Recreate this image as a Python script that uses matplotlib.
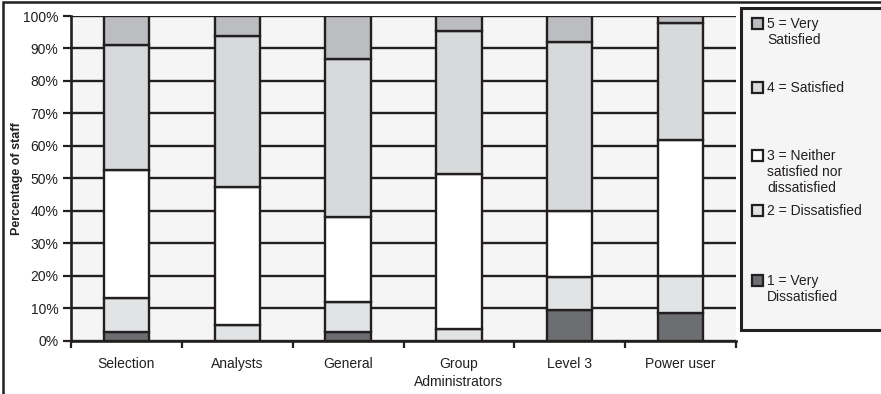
import matplotlib
matplotlib.use("Agg")
import matplotlib.pyplot as plt
from matplotlib.patches import Rectangle
import numpy as np

plt.rcParams['font.family'] = ['Liberation Sans', 'DejaVu Sans']

categories = ["Selection", "Analysts", "General", "Group\nAdministrators", "Level 3", "Power user"]
very_dissatisfied = [2.6, 0.0, 2.6, 0.0, 9.5, 8.4]
dissatisfied = [10.5, 4.8, 9.2, 3.5, 10.0, 11.6]
neither = [39.5, 42.6, 26.2, 47.8, 20.5, 41.7]
satisfied = [38.5, 46.3, 48.8, 44.0, 51.9, 36.2]
very_satisfied = [8.9, 6.3, 13.2, 4.7, 8.1, 2.1]

series = [very_dissatisfied, dissatisfied, neither, satisfied, very_satisfied]
labels = ["1 = Very\nDissatisfied", "2 = Dissatisfied",
          "3 = Neither\nsatisfied nor\ndissatisfied", "4 = Satisfied",
          "5 = Very\nSatisfied"]
colors = ["#6d6e71", "#e2e3e4", "#ffffff", "#d8d9db", "#bcbdc0"]
ink = "#231f20"
FS = 10

fig = plt.figure(figsize=(8.81, 3.94), dpi=100)
ax = fig.add_axes([71/881, 1-340.7/394, (736-71)/881, (340.7-16)/394])
ax.set_facecolor("#f5f5f5")

x = np.arange(len(categories))
bottom = np.zeros(len(categories))
for vals, col in zip(series, colors):
    v = np.array(vals) / 100.0
    ax.bar(x, v, width=0.41, bottom=bottom, color=col, edgecolor=ink,
           linewidth=1.7, zorder=3)
    bottom += v

ax.set_xlim(-0.5, len(categories) - 0.5)
ax.set_ylim(0, 1)
ax.set_yticks(np.arange(0, 1.01, 0.1))
ax.set_yticklabels([f"{int(round(t*100))}%" for t in np.arange(0, 1.01, 0.1)],
                   fontsize=FS, color=ink)
ax.yaxis.grid(True, color=ink, linewidth=1.7, zorder=1)
ax.set_axisbelow(True)
ax.set_xticks(x)
ax.set_xticklabels(categories, fontsize=FS, color=ink, linespacing=1.3)
ax.tick_params(axis='x', length=0, pad=12)
ax.set_xticks(np.arange(-0.5, len(categories) + 0.5, 1), minor=True)
ax.tick_params(axis='x', which='minor', length=5, width=1.6, color=ink, direction='out')
ax.tick_params(axis='y', length=6, width=1.6, color=ink, direction='out', pad=3)
for s in ['top', 'right']:
    ax.spines[s].set_visible(False)
for s in ['left', 'bottom']:
    ax.spines[s].set_color(ink)
    ax.spines[s].set_linewidth(1.9)
    ax.spines[s].set_zorder(4)
ax.set_ylabel("Percentage of staff", fontsize=9, fontweight='bold', color=ink)
ax.yaxis.set_label_coords((17 - 71) / 665, 0.5)
ax.yaxis.label.set_verticalalignment('center')

# outer frame
fig.patches.append(Rectangle((3/881, -0.01), 1.0, 1 - 2/394 + 0.01, transform=fig.transFigure,
                             fill=False, edgecolor=ink, linewidth=1.8))

# legend box
W, H = 881, 394
fig.patches.append(Rectangle((741/W, 1-330/H), 0.5, (330-8)/H, transform=fig.transFigure,
                             facecolor="#f5f5f5", edgecolor=ink, linewidth=2.2, zorder=5))
leg_tops = [275, 205, 150, 82, 18]
for lab, col, ytop in zip(labels, colors, leg_tops):
    fig.patches.append(Rectangle((752/W, 1-(ytop+11)/H), 11/W, 11/H, transform=fig.transFigure,
                                 facecolor=col, edgecolor=ink, linewidth=1.6, zorder=6))
    fig.text(767/W, 1-(ytop-1)/H, lab, fontsize=FS, color=ink, va='top', ha='left',
             linespacing=1.2, zorder=7)

fig.savefig("out.png", dpi=100)
